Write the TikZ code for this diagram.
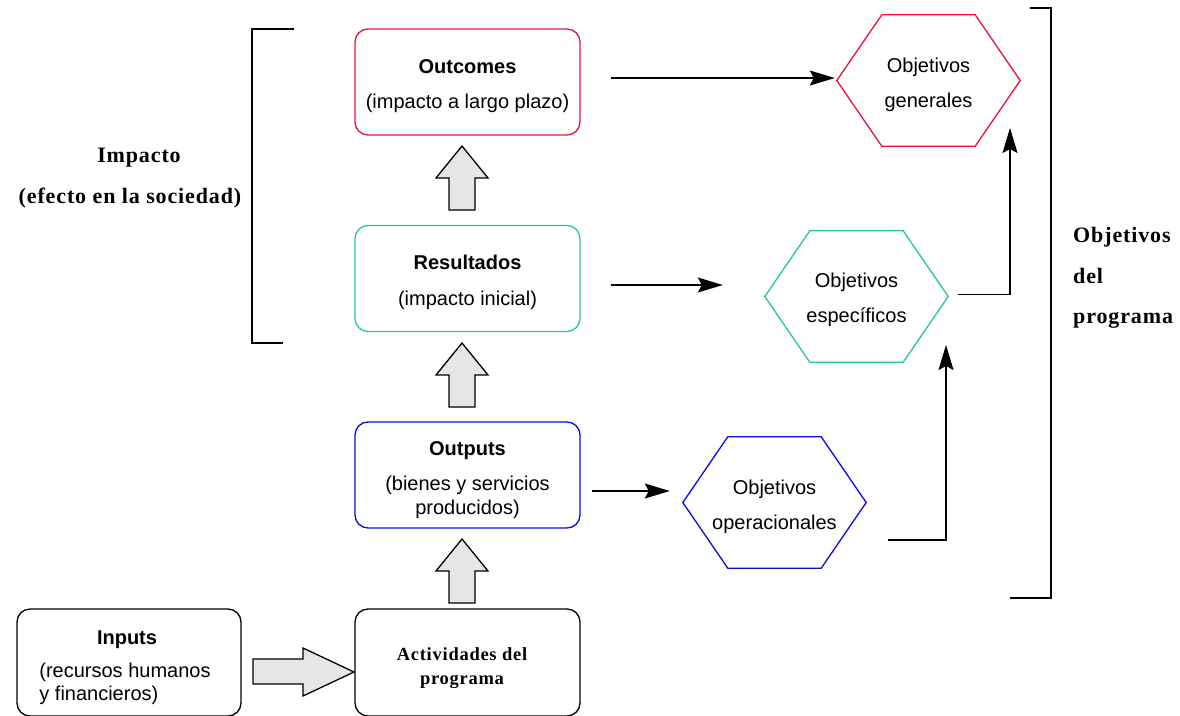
\documentclass[tikz,border=0pt]{standalone}
\usepackage{fontspec}
\setmainfont{Liberation Sans}
\newfontfamily\tms[LetterSpace=4]{Liberation Serif}
\usetikzlibrary{arrows.meta,calc}
\definecolor{cred}{RGB}{232,18,60}
\definecolor{cgreen}{RGB}{36,201,150}
\definecolor{cblue}{RGB}{10,10,230}
\definecolor{cfill}{RGB}{230,230,230}
\newcommand{\hexa}[2]{\draw[#2, line width=1.3pt, line join=miter] (#1.west) -- ([xshift=45pt]#1.north west) -- ([xshift=-45pt]#1.north east) -- (#1.east) -- ([xshift=-45pt]#1.south east) -- ([xshift=45pt]#1.south west) -- cycle;}
\begin{document}
\begin{tikzpicture}[x=1pt,y=-1pt,
  box/.style={draw, rounded corners=13pt, line width=1.3pt, minimum width=225pt, minimum height=106pt, inner sep=0pt},
  btext/.style={align=center, inner sep=0pt, font=\fontsize{20}{24}\selectfont},
  hex/.style={minimum width=183pt, minimum height=131pt, inner sep=0pt},
  arr/.style={line width=1.3pt, -{Stealth[length=25pt,width=15pt,inset=4pt]}},
  blk/.style={draw, line width=1.3pt, fill=cfill, line join=miter},
  serifbold/.style={font=\fontsize{22}{40.5}\selectfont\tms\bfseries},
  uparr/.pic={\draw[blk] (-13,0) -- (-13,-32) -- (-26,-32) -- (0,-64) -- (26,-32) -- (13,-32) -- (13,0) -- cycle;}
]
\useasboundingbox (0,0) rectangle (1180,715);

% boxes
\node[box, draw=cred] (oc) at (467.5,82) {};
\node[btext] (oct) at (467.5,86) {\textbf{Outcomes}\\[11pt](impacto a largo plazo)};
\node[box, draw=cgreen] (res) at (467.5,278.5) {};
\node[btext] (rest) at (467.5,282.5) {\textbf{Resultados}\\[12pt](impacto inicial)};
\node[box, draw=cblue] (outp) at (467.5,475) {};
\node[btext] (outpt) at (467.5,480.5) {\textbf{Outputs}\\[11pt](bienes y servicios\\producidos)};
\node[box, minimum height=107pt] (act) at (467.5,662.5) {};
\node[font=\fontsize{18.5}{24}\selectfont\tms\bfseries, align=center, inner sep=0pt] (actt) at (462,668.5) {Actividades del\\programa};
\node[box, minimum width=224pt, minimum height=107pt] (inp) at (129,662.5) {};
\node[font=\fontsize{20}{23}\selectfont, inner sep=0pt] (inpt) at (125,667.5) {\begin{tabular}{@{}l@{}}\multicolumn{1}{c}{\hspace*{4pt}\textbf{Inputs}}\\[10pt](recursos humanos\\y financieros)\end{tabular}};

% hexagons
\node[hex] (gen) at (928.5,80.5) {};
\node[btext] (gent) at (928.5,84.5) {Objetivos\\[11pt]generales};
\node[hex] (esp) at (856.5,296.5) {};
\node[btext] (espt) at (856.5,300) {Objetivos\\[11pt]específicos};
\node[hex] (op) at (774.5,502.5) {};
\node[btext] (opt) at (774.5,506.5) {Objetivos\\[11pt]operacionales};
\hexa{gen}{cred}
\hexa{esp}{cgreen}
\hexa{op}{cblue}

% side labels
\node[serifbold, align=center, inner sep=0pt] (imp) at (130,178) {\hspace*{18pt}Impacto\\(efecto en la sociedad)};
\node[serifbold, align=left, anchor=west, inner sep=0pt] (obj) at (1073,278) {Objetivos\\del\\programa};

% brackets
\draw[line width=1.3pt] (294,29) -- (252,29) -- (252,343) -- (283,343);
\draw[line width=1.3pt] (1030,8) -- (1051,8) -- (1051,598) -- (1010,598);

% connectors
\draw[arr] ([xshift=30pt,yshift=4pt]oc.east) -- ([xshift=-2pt,yshift=4pt]oc.east -| gen.west);
\draw[arr] ([xshift=30pt,yshift=-6.5pt]res.east) -- ([xshift=-42pt,yshift=-6.5pt]res.east -| esp.west);
\draw[arr] ([xshift=11pt,yshift=-16pt]outp.east) -- ([xshift=-13pt,yshift=-16pt]outp.east -| op.west);
\coordinate (c1) at (1010,128);
\coordinate (c2) at (946,345);
\draw[arr] ([xshift=10pt,yshift=2pt]esp.east) -| (c1);
\draw[arr] ([xshift=22pt,yshift=-37.5pt]op.east) -| (c2);

% block arrows
\pic at (462,210) {uparr};
\pic at (462,407) {uparr};
\pic at (462,603) {uparr};
\draw[blk] (253,659) -- (303,659) -- (303,648) -- (354,672) -- (303,696) -- (303,684) -- (253,684) -- cycle;
\end{tikzpicture}
\end{document}
